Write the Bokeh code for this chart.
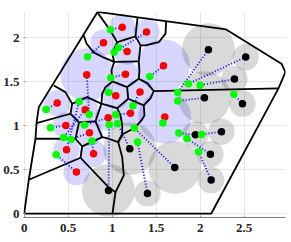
from bokeh.plotting import figure
from bokeh.embed import file_html
from bokeh.resources import INLINE
from bokeh.models import FixedTicker, Range1d

# anchors (sinks): red and black, each with the green point it links to, and its circle radius
red_x = [1.114,1.390,0.901,1.170,0.711,1.151,1.583,1.041,1.316,0.375,0.693,0.955,1.208,1.598,0.473,0.742,0.481,0.788,0.594]
red_y = [2.120,2.064,1.943,1.844,1.580,1.586,1.682,1.341,1.384,1.257,1.182,1.091,1.143,1.098,1.003,0.920,0.727,0.682,0.473]
red_r = [.15,.15,.15,.15,.3,.15,.3,.15,.15,.15,.15,.15,.15,.3,.15,.15,.15,.15,.15]
red_gx = [0.981,1.023,0.719,1.072,0.739,0.984,1.427,0.961,1.236,0.248,0.447,0.685,1.040,1.577,0.299,0.532,0.625,0.770,0.364]
red_gy = [2.091,1.836,1.784,1.890,1.128,1.545,1.558,1.378,1.228,1.185,0.867,1.007,1.126,1.030,0.978,0.844,1.276,0.827,0.670]

black_x = [2.094,2.518,2.390,2.049,2.481,1.947,2.242,2.117,2.125,1.711,1.401,0.958,1.200]
black_y = [1.864,1.780,1.530,1.318,1.250,0.898,0.932,0.677,0.382,0.526,0.231,0.265,0.739]
black_r = [.3,.15,.15,.3,.15,.15,.15,.15,.15,.3,.15,.3,.3]
black_gx = [1.745,1.867,2.000,1.745,2.382,1.757,2.018,1.848,1.981,1.253,1.288,0.966,1.060]
black_gy = [1.378,1.477,1.461,1.280,1.359,0.916,0.901,0.856,0.705,0.973,0.814,1.011,1.026]

outer_x = [0.833,2.295,2.924,2.969,2.890,2.125,0,0.052,0.128,0.140,0.166,0.833]
outer_y = [2.293,2.094,1.705,1.609,1.424,0,0,0.386,0.852,1.030,1.211,2.293]

cell_edges = [
 [(0.677,2.026),(0.708,1.935),(0.788,1.833),(0.901,1.776),(1.023,1.725)],
 [(0.830,2.291),(0.973,2.091),(1.057,1.950)],
 [(1.057,1.950),(1.0,1.825),(1.023,1.725)],
 [(1.057,1.950),(1.265,2.015),(1.322,1.913)],
 [(1.265,2.015),(1.288,2.227)],
 [(1.614,2.189),(1.606,2.045),(1.530,1.950),(1.378,1.913),(1.322,1.913)],
 [(1.322,1.913),(1.302,1.731)],
 [(1.023,1.725),(1.302,1.731)],
 [(1.302,1.731),(1.310,1.628),(1.302,1.534)],
 [(1.023,1.725),(0.992,1.628),(1.003,1.503),(1.170,1.439),(1.302,1.534)],
 [(1.302,1.534),(1.401,1.481),(1.473,1.393),(1.435,1.310),(1.359,1.231)],
 [(1.473,1.393),(2.890,1.424)],
 [(1.170,1.439),(1.182,1.307)],
 [(1.182,1.307),(1.359,1.231)],
 [(1.182,1.307),(1.057,1.2)],
 [(1.003,1.503),(0.924,1.439),(0.886,1.364),(0.878,1.25)],
 [(0.878,1.25),(1.057,1.2)],
 [(1.057,1.2),(1.094,1.117),(1.114,1.011),(1.114,0.909),(1.068,0.814)],
 [(1.359,1.231),(1.367,1.117),(1.333,1.060),(1.253,0.973),(1.128,0.909),(1.068,0.814)],
 [(1.068,0.814),(1.114,0.643),(1.132,0.435),(1.038,0.245)],
 [(1.038,0.245),(1.003,0)],
 [(1.038,0.245),(0.958,0.302),(0.640,0.636)],
 [(0.640,0.636),(0.052,0.386)],
 [(0.640,0.636),(0.659,0.765)],
 [(0.659,0.765),(0.886,0.870),(0.961,0.852),(1.068,0.814)],
 [(0.659,0.765),(0.583,0.852)],
 [(0.583,0.852),(0.128,0.852)],
 [(0.583,0.852),(0.623,1.038)],
 [(0.623,1.038),(0.526,1.136)],
 [(0.526,1.136),(0.140,1.030)],
 [(0.526,1.136),(0.545,1.25)],
 [(0.623,1.038),(0.810,1.049)],
 [(0.810,1.049),(0.867,1.219),(0.878,1.25)],
 [(0.810,1.049),(0.886,0.870)],
 [(0.336,1.458),(0.469,1.382),(0.545,1.25)],
 [(0.545,1.25),(0.716,1.325),(0.878,1.25)],
]
x_ticks = [0,0.5,1,1.5,2,2.5]
y_ticks = [0,0.5,1,1.5,2]

p = figure(width=291, height=242, output_backend="svg", toolbar_location=None,
           x_range=Range1d(-0.008,2.97), y_range=Range1d(-0.043,2.298),
           min_border_left=23, min_border_right=6, min_border_top=11, min_border_bottom=25)
p.outline_line_color = None
p.background_fill_color = "white"
p.grid.grid_line_color = "#e8e8e8"
p.grid.grid_line_width = 1
p.xgrid.ticker = FixedTicker(ticks=x_ticks)
p.ygrid.ticker = FixedTicker(ticks=y_ticks)
p.xaxis.ticker = FixedTicker(ticks=x_ticks)
p.yaxis.ticker = FixedTicker(ticks=y_ticks)
for ax in (p.xaxis[0], p.yaxis[0]):
    ax.major_label_text_font = "Liberation Serif"
    ax.major_label_text_font_style = "bold"
    ax.major_label_text_font_size = "13px"
    ax.major_label_text_color = "#222222"
    ax.minor_tick_line_color = None
    ax.major_tick_line_color = "#999999"
    ax.major_tick_out = 0
    ax.major_tick_in = 2
p.xaxis.axis_line_color = "#808080"
p.xaxis.major_label_standoff = 6
p.yaxis.axis_line_color = None
p.yaxis.major_label_standoff = 4

p.circle(red_x, red_y, radius=red_r, fill_color="#0000ff", fill_alpha=0.16, line_color=None)
p.circle(black_x, black_y, radius=black_r, fill_color="#000000", fill_alpha=0.15, line_color=None)

p.line(outer_x, outer_y, line_color="black", line_width=1.8)
p.multi_line([[q[0] for q in e] for e in cell_edges], [[q[1] for q in e] for e in cell_edges],
             line_color="black", line_width=1.8)

segx = [[a,b] for a,b in zip(red_x+black_x, red_gx+black_gx)]
segy = [[a,b] for a,b in zip(red_y+black_y, red_gy+black_gy)]
p.multi_line(segx, segy, line_color="#0000ff", line_width=1.8, line_dash="1 2")

p.scatter(red_x, red_y, size=7.5, fill_color="#ff0000", line_color=None)
p.scatter(black_x, black_y, size=7.5, fill_color="#000000", line_color=None)
p.scatter(red_gx+black_gx, red_gy+black_gy, size=7.5, fill_color="#00ff00", line_color=None)

open("out.html","w").write(file_html(p, INLINE))
